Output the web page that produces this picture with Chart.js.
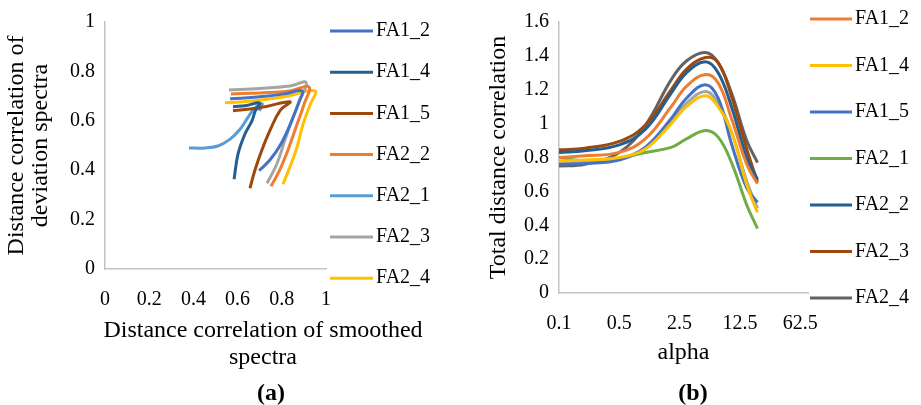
<!DOCTYPE html>
<html>
<head>
<meta charset="utf-8">
<script src="https://cdn.jsdelivr.net/npm/chart.js@4.4.1/dist/chart.umd.min.js"></script>
<style>
  body { margin: 0; background: #fff; }
  #figura { position: relative; width: 921px; height: 405px; font-family: "Liberation Serif", "Times New Roman", serif; color: #000; }
  .painel { position: absolute; top: 0; }
  .texto { position: absolute; text-align: center; white-space: nowrap; transform: translateX(-50%); font-size: 24px; line-height: 27px; }
  .rotulo { font-weight: bold; }
</style>
</head>
<body>
<div id="figura">
  <canvas id="graficoA" class="painel" style="left:0" width="460" height="405"></canvas>
  <canvas id="graficoB" class="painel" style="left:460px" width="461" height="405"></canvas>
  <div class="texto" style="left:263px; top:316px">Distance correlation of smoothed<br>spectra</div>
  <div class="texto rotulo" style="left:271px; top:379px">(a)</div>
  <div class="texto rotulo" style="left:693px; top:379px">(b)</div>
</div>
<script>
// (a) - pares (x, y) de cada série
var fa1_2A_x = [0.566, 0.701, 0.814, 0.891, 0.878, 0.842, 0.796, 0.747, 0.697];
var fa1_2A_y = [0.689, 0.697, 0.709, 0.721, 0.677, 0.594, 0.506, 0.442, 0.398];
var fa1_4A_x = [0.579, 0.640, 0.700, 0.680, 0.665, 0.633, 0.602, 0.584];
var fa1_4A_y = [0.657, 0.662, 0.672, 0.640, 0.600, 0.546, 0.466, 0.363];
var fa1_5A_x = [0.579, 0.701, 0.837, 0.792, 0.747, 0.710, 0.679, 0.656];
var fa1_5A_y = [0.641, 0.653, 0.677, 0.641, 0.562, 0.482, 0.402, 0.327];
var fa2_2A_x = [0.570, 0.701, 0.837, 0.923, 0.900, 0.869, 0.828, 0.787, 0.751];
var fa2_2A_y = [0.709, 0.713, 0.721, 0.737, 0.665, 0.586, 0.482, 0.394, 0.335];
var fa2_1A_x = [0.380, 0.452, 0.511, 0.566, 0.611, 0.647, 0.674, 0.701, 0.712, 0.698];
var fa2_1A_y = [0.490, 0.490, 0.498, 0.526, 0.566, 0.614, 0.649, 0.667, 0.668, 0.640];
var fa2_3A_x = [0.561, 0.701, 0.837, 0.910, 0.882, 0.851, 0.814, 0.778, 0.733];
var fa2_3A_y = [0.725, 0.731, 0.741, 0.755, 0.685, 0.614, 0.522, 0.426, 0.347];
var fa2_4A_x = [0.543, 0.679, 0.814, 0.950, 0.928, 0.896, 0.869, 0.837, 0.805];
var fa2_4A_y = [0.673, 0.681, 0.697, 0.721, 0.665, 0.586, 0.494, 0.414, 0.343];

// (b) - valores por alpha
var alpha = [0.1, 0.2, 0.5, 1, 2, 3, 5, 7, 10, 15, 20];
var ticksAlpha = [0.1, 0.5, 2.5, 12.5, 62.5];
var rotulosAlpha = ['0.1', '0.5', '2.5', '12.5', '62.5'];
var fa1_2B = [0.80, 0.81, 0.83, 0.91, 1.10, 1.22, 1.29, 1.24, 1.03, 0.76, 0.645];
var fa1_4B = [0.78, 0.785, 0.80, 0.85, 1.00, 1.10, 1.165, 1.10, 0.95, 0.64, 0.475];
var fa1_5B = [0.76, 0.765, 0.785, 0.86, 1.03, 1.15, 1.23, 1.15, 0.88, 0.62, 0.535];
var extraB = [0.77, 0.775, 0.795, 0.86, 1.02, 1.12, 1.19, 1.12, 0.95, 0.66, 0.50];
var fa2_1B = [0.80, 0.78, 0.795, 0.83, 0.86, 0.91, 0.96, 0.92, 0.77, 0.52, 0.38];
var fa2_2B = [0.83, 0.84, 0.875, 0.965, 1.18, 1.30, 1.365, 1.30, 1.10, 0.80, 0.67];
var fa2_3B = [0.845, 0.855, 0.895, 0.99, 1.20, 1.32, 1.39, 1.36, 1.16, 0.85, 0.655];
var fa2_4B = [0.75, 0.76, 0.83, 0.99, 1.26, 1.37, 1.42, 1.36, 1.18, 0.90, 0.77];

var fonte = '"Liberation Serif", "Times New Roman", serif';
Chart.defaults.font.family = fonte;
Chart.defaults.font.size = 20;
Chart.defaults.color = '#000';

// legenda desenhada a direita, com linha curta e texto
var legendaLinhas = {
    id: 'legendaLinhas',
    afterDraw: function (chart, args, opts) {
        var ctx = chart.ctx;
        var y = opts.top;
        ctx.save();
        ctx.font = '20px ' + fonte;
        ctx.textBaseline = 'middle';
        ctx.fillStyle = '#000';
        chart.data.datasets.forEach(function (ds) {
            if (!ds.label) return;
            ctx.strokeStyle = ds.borderColor;
            ctx.lineWidth = 3;
            ctx.beginPath();
            ctx.moveTo(opts.x, y);
            ctx.lineTo(opts.x + opts.comp, y);
            ctx.stroke();
            ctx.fillText(ds.label, opts.x + opts.comp + 3, y);
            y += opts.passo;
        });
        ctx.restore();
    }
};

const pares = function (xs, ys) {
    return xs.map((x, i) => ({ x: x, y: ys[i] }));
}

const serie = function (label, cor, dados) {
    return {
        label: label,
        data: dados,
        borderColor: cor,
        backgroundColor: cor,
        borderWidth: 3,
        pointRadius: 0,
        showLine: true,
        fill: false,
        tension: 0.4
    };
}

// "1" em vez de "1.0", como no Excel
const numeroCurto = function (v) {
    return String(+Number(v).toFixed(1));
}

const eixoBorda = { color: '#C4C4C4', width: 1.5 };

new Chart(document.getElementById('graficoA'), {
    type: 'scatter',
    data: {
        datasets: [
            serie('FA1_2', '#4472C4', pares(fa1_2A_x, fa1_2A_y)),
            serie('FA1_4', '#255E91', pares(fa1_4A_x, fa1_4A_y)),
            serie('FA1_5', '#9E480E', pares(fa1_5A_x, fa1_5A_y)),
            serie('FA2_2', '#ED7D31', pares(fa2_2A_x, fa2_2A_y)),
            serie('FA2_1', '#5B9BD5', pares(fa2_1A_x, fa2_1A_y)),
            serie('FA2_3', '#A5A5A5', pares(fa2_3A_x, fa2_3A_y)),
            serie('FA2_4', '#FFC000', pares(fa2_4A_x, fa2_4A_y))
        ]
    },
    options: {
        responsive: false,
        animation: false,
        layout: { padding: { left: 0, right: 134, top: 18, bottom: 0 } },
        plugins: {
            legend: { display: false },
            tooltip: { enabled: false },
            legendaLinhas: { x: 330, top: 31, passo: 41.2, comp: 43 }
        },
        scales: {
            x: {
                type: 'linear', min: 0, max: 1,
                ticks: { stepSize: 0.2, padding: 19, maxRotation: 0, callback: numeroCurto },
                grid: { display: false, drawTicks: false },
                border: eixoBorda,
                afterFit: function (s) { s.height = 136; }
            },
            y: {
                min: 0, max: 1,
                ticks: { stepSize: 0.2, padding: 10, callback: numeroCurto },
                grid: { display: false, drawTicks: false },
                border: eixoBorda,
                title: {
                    display: true,
                    text: ['Distance correlation of', 'deviation spectra'],
                    font: { size: 24, lineHeight: 1 },
                    padding: { top: 5, bottom: 0 }
                },
                afterFit: function (s) { s.width = 105; }
            }
        }
    },
    plugins: [legendaLinhas]
});

const serieB = function (label, cor, valores) {
    return serie(label, cor, alpha.map((a, i) => ({ x: a, y: valores[i] })));
}

new Chart(document.getElementById('graficoB'), {
    type: 'line',
    data: {
        datasets: [
            serieB('FA1_2', '#ED7D31', fa1_2B),
            serieB('FA1_4', '#FFC000', fa1_4B),
            serieB('FA1_5', '#4472C4', fa1_5B),
            serieB('', '#A5A5A5', extraB),
            serieB('FA2_1', '#70AD47', fa2_1B),
            serieB('FA2_2', '#255E91', fa2_2B),
            serieB('FA2_3', '#9E480E', fa2_3B),
            serieB('FA2_4', '#636363', fa2_4B)
        ]
    },
    options: {
        responsive: false,
        animation: false,
        layout: { padding: { left: 0, right: 113, top: 18, bottom: 0 } },
        plugins: {
            legend: { display: false },
            tooltip: { enabled: false },
            legendaLinhas: { x: 350, top: 19, passo: 46.5, comp: 42 }
        },
        scales: {
            x: {
                type: 'logarithmic', min: 0.1, max: 77,
                afterBuildTicks: function (s) { s.ticks = ticksAlpha.map(v => ({ value: v })); },
                ticks: {
                    padding: 19, autoSkip: false, maxRotation: 0,
                    callback: function (v, i) { return rotulosAlpha[i]; }
                },
                grid: { display: false, drawTicks: false },
                border: eixoBorda,
                title: {
                    display: true,
                    text: 'alpha',
                    font: { size: 24, lineHeight: 1 },
                    padding: { top: 0, bottom: 40 }
                },
                afterFit: function (s) { s.height = 112; }
            },
            y: {
                min: 0, max: 1.6,
                ticks: { stepSize: 0.2, padding: 10, callback: numeroCurto },
                grid: { display: false, drawTicks: false },
                border: eixoBorda,
                title: {
                    display: true,
                    text: 'Total distance correlation',
                    font: { size: 24, lineHeight: 1 },
                    padding: { top: 27, bottom: 0 }
                },
                afterFit: function (s) { s.width = 99; }
            }
        }
    },
    plugins: [legendaLinhas]
});
</script>
</body>
</html>
